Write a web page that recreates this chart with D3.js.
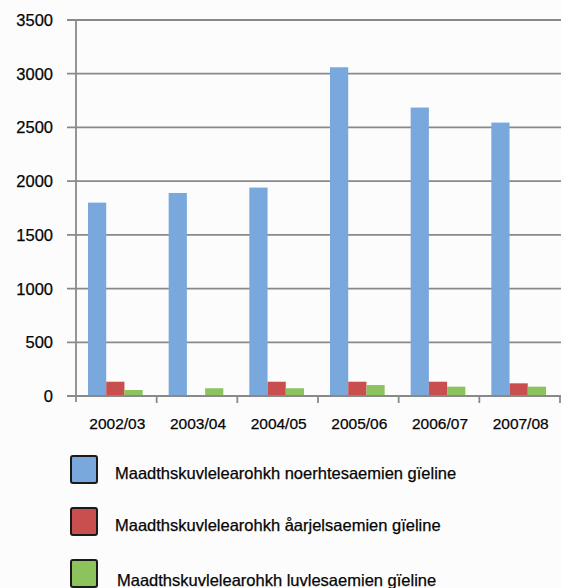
<!DOCTYPE html>
<html>
<head>
<meta charset="utf-8">
<script src="https://cdn.jsdelivr.net/npm/d3@7"></script>
<style>
	html, body { margin: 0; padding: 0; background: #fcfcfd; }
	svg { display: block; font-family: "Liberation Sans", Arial, sans-serif; }
	text { fill: #050505; stroke: #050505; stroke-width: 0.25px; }
</style>
</head>
<body>
<div id="chart"></div>
<script>
// years on the x axis
var categories = ["2002/03", "2003/04", "2004/05", "2005/06", "2006/07", "2007/08"];

// one array per language
var seriesNames = [
	"Maadthskuvlelearohkh noerhtesaemien gïeline",
	"Maadthskuvlelearohkh åarjelsaemien gïeline",
	"Maadthskuvlelearohkh luvlesaemien gïeline"
];
var noerhte = [1800, 1890, 1940, 3060, 2685, 2545];
var aarjel = [133, 0, 133, 133, 133, 118];
var luvle = [56, 72, 72, 102, 87, 87];

var yTicks = [0, 500, 1000, 1500, 2000, 2500, 3000, 3500];
var colors = ["#79a9dc", "#c94f4f", "#8cc35c"];

var width = 561, height = 588;
var plotLeft = 76, plotRight = 560, plotTop = 20, plotBottom = 396;

var svg = d3.select("#chart").append("svg")
	.attr("width", width)
	.attr("height", height);

var y = d3.scaleLinear()
	.domain([0, 3500])
	.range([plotBottom, plotTop]);

var x = d3.scaleBand()
	.domain(categories)
	.range([plotLeft, plotRight])
	.paddingInner(0)
	.paddingOuter(0);

var x1 = d3.scaleBand()
	.domain([0, 1, 2])
	.range([12, x.bandwidth() - 14])
	.padding(0);

/*
 * grid lines, they stick out left of the axis like ticks
 */
svg.append("g").selectAll("line")
	.data(yTicks)
	.enter().append("line")
		.attr("x1", plotLeft - 9)
		.attr("x2", width)
		.attr("y1", function(d) { return y(d); })
		.attr("y2", function(d) { return y(d); })
		.attr("stroke", "#898989")
		.attr("stroke-width", 1.8);

svg.append("g").selectAll("text")
	.data(yTicks)
	.enter().append("text")
		.attr("x", 53)
		.attr("y", function(d) { return y(d); })
		.attr("dy", "0.36em")
		.attr("text-anchor", "end")
		.attr("font-size", "16.5px")
		.text(function(d) { return d; });

// bars
var rows = categories.map(function(c, i) {
	return { cat: c, values: [noerhte[i], aarjel[i], luvle[i]] };
});

var groups = svg.append("g").selectAll(".datagroup")
	.data(rows)
	.enter().append("g")
		.attr("class", "datagroup")
		.attr("transform", function(d) { return "translate(" + x(d.cat) + ",0)"; });

groups.selectAll("rect")
	.data(function(d) { return d.values; })
	.enter().append("rect")
		.attr("x", function(d, i) { return x1(i); })
		.attr("width", x1.bandwidth())
		.attr("y", function(d) { return y(d); })
		.attr("height", function(d) { return plotBottom - y(d); })
		.attr("fill", function(d, i) { return colors[i]; });

// axes
svg.append("line")
	.attr("x1", plotLeft).attr("x2", plotLeft)
	.attr("y1", plotTop).attr("y2", plotBottom + 6)
	.attr("stroke", "#898989")
	.attr("stroke-width", 1.8);

svg.append("line")
	.attr("x1", plotLeft - 9).attr("x2", width)
	.attr("y1", plotBottom).attr("y2", plotBottom)
	.attr("stroke", "#898989")
	.attr("stroke-width", 1.8);

svg.append("g").selectAll("line")
	.data(categories)
	.enter().append("line")
		.attr("x1", function(d) { return x(d) + x.bandwidth(); })
		.attr("x2", function(d) { return x(d) + x.bandwidth(); })
		.attr("y1", plotBottom)
		.attr("y2", plotBottom + 7)
		.attr("stroke", "#898989")
		.attr("stroke-width", 1.8);

svg.append("g").selectAll("text")
	.data(categories)
	.enter().append("text")
		.attr("x", function(d) { return x(d) + x.bandwidth() / 2 + 1; })
		.attr("y", 423)
		.attr("dy", "0.36em")
		.attr("text-anchor", "middle")
		.attr("font-size", "15.5px")
		.text(function(d) { return d; });

// legend
var legend = svg.append("g").selectAll("g")
	.data(seriesNames)
	.enter().append("g")
		.attr("transform", function(d, i) { return "translate(71," + (456 + i * 52) + ")"; });

legend.append("rect")
	.attr("width", 26)
	.attr("height", 27)
	.attr("rx", 2)
	.attr("fill", function(d, i) { return colors[i]; })
	.attr("stroke", "#1a1a1a")
	.attr("stroke-width", 2);

legend.append("text")
	.attr("x", function(d, i) { return i == 2 ? 46 : 44; })
	.attr("y", function(d, i) { return i == 2 ? 20 : 17; })
	.attr("dy", "0.36em")
	.attr("font-size", "16.5px")
	.text(function(d) { return d; });
</script>
</body>
</html>
